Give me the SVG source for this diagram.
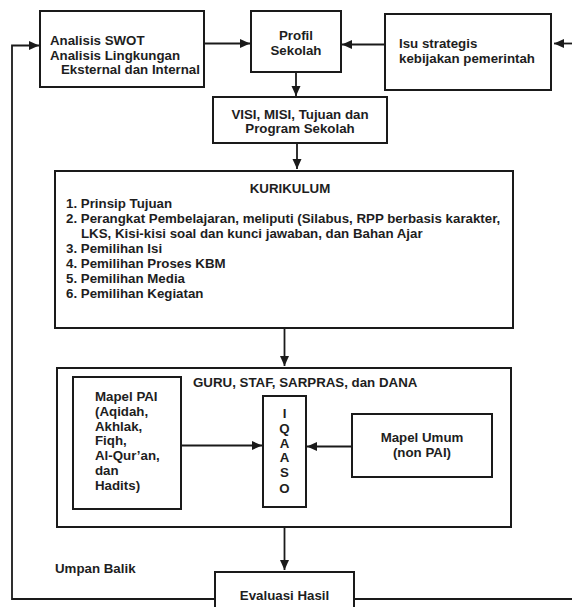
<svg xmlns="http://www.w3.org/2000/svg" width="572" height="607" viewBox="0 0 572 607">
<style>
.box{fill:#fff;stroke:#1a1a1a;stroke-width:2}
.ln{fill:none;stroke:#1a1a1a;stroke-width:1.8}
text{font-family:"Liberation Sans",Arial,sans-serif;font-weight:bold;font-size:13.3px;fill:#1e1e1e}
.c{text-anchor:middle}
</style>
<defs>
<marker id="ah" markerUnits="userSpaceOnUse" markerWidth="11" markerHeight="10" refX="10" refY="4.5" orient="auto">
<path d="M0,0 L10,4.5 L0,9 z" fill="#1a1a1a"/>
</marker>
</defs>
<rect width="572" height="607" fill="#fff"/>
<g id="swot">
<rect class="box" x="40" y="11" width="164" height="76"/>
<text x="50" y="45">Analisis SWOT</text>
<text x="50" y="59.5">Analisis Lingkungan</text>
<text x="61" y="74">Eksternal dan Internal</text>
</g>
<g id="profil">
<rect class="box" x="251" y="11" width="90" height="61"/>
<text class="c" x="296" y="40">Profil</text>
<text class="c" x="296" y="55">Sekolah</text>
</g>
<g id="isu">
<rect class="box" x="385" y="14" width="166" height="76"/>
<text x="399" y="48">Isu strategis</text>
<text x="399" y="63">kebijakan pemerintah</text>
</g>
<g id="visi">
<rect class="box" x="213" y="97" width="174" height="46"/>
<text class="c" x="300" y="119">VISI, MISI, Tujuan dan</text>
<text class="c" x="300" y="133">Program Sekolah</text>
</g>
<g id="kurikulum">
<rect class="box" x="55" y="171" width="458" height="157"/>
<text class="c" x="290" y="193">KURIKULUM</text>
<text x="66" y="208">1. Prinsip Tujuan</text>
<text x="66" y="223">2. Perangkat Pembelajaran, meliputi (Silabus, RPP berbasis karakter,</text>
<text x="81" y="238">LKS, Kisi-kisi soal dan kunci jawaban, dan Bahan Ajar</text>
<text x="66" y="253">3. Pemilihan Isi</text>
<text x="66" y="268">4. Pemilihan Proses KBM</text>
<text x="66" y="283">5. Pemilihan Media</text>
<text x="66" y="298">6. Pemilihan Kegiatan</text>
</g>
<g id="guru">
<rect class="box" x="57" y="368" width="454" height="159"/>
<text x="193" y="387">GURU, STAF, SARPRAS, dan DANA</text>
</g>
<g id="pai">
<rect class="box" x="73" y="377" width="108" height="132"/>
<text x="95" y="401">Mapel PAI</text>
<text x="95" y="416">(Aqidah,</text>
<text x="95" y="431">Akhlak,</text>
<text x="95" y="445">Fiqh,</text>
<text x="95" y="460">Al-Qur’an,</text>
<text x="95" y="475">dan</text>
<text x="95" y="490">Hadits)</text>
</g>
<g id="iqaaso">
<rect class="box" x="263" y="396" width="43" height="111"/>
<text class="c" x="284.5" y="417.5">I</text>
<text class="c" x="284.5" y="432.5">Q</text>
<text class="c" x="284.5" y="447.5">A</text>
<text class="c" x="284.5" y="462">A</text>
<text class="c" x="284.5" y="477">S</text>
<text class="c" x="284.5" y="493">O</text>
</g>
<g id="umum">
<rect class="box" x="352" y="414" width="140" height="63"/>
<text class="c" x="422" y="442">Mapel Umum</text>
<text class="c" x="422" y="457">(non PAI)</text>
</g>
<g id="evaluasi">
<rect class="box" x="215" y="572" width="139" height="50"/>
<text class="c" x="284.5" y="600">Evaluasi Hasil</text>
</g>
<g id="umpan">
<text x="55" y="573">Umpan Balik</text>
</g>
<g id="connectors">
<path class="ln" d="M214,599 H12 V45.5 H39" marker-end="url(#ah)"/>
<path class="ln" d="M355,599 H572"/>
<path class="ln" d="M205,43.5 H250" marker-end="url(#ah)"/>
<path class="ln" d="M384,44.5 H342" marker-end="url(#ah)"/>
<path class="ln" d="M572,43.5 H554" marker-end="url(#ah)"/>
<path class="ln" d="M296,73 V96" marker-end="url(#ah)"/>
<path class="ln" d="M297,144 V169" marker-end="url(#ah)"/>
<path class="ln" d="M284.5,329 V366" marker-end="url(#ah)"/>
<path class="ln" d="M182,445.5 H262" marker-end="url(#ah)"/>
<path class="ln" d="M351,446.5 H307" marker-end="url(#ah)"/>
<path class="ln" d="M284.5,528 V570" marker-end="url(#ah)"/>
</g>
</svg>
